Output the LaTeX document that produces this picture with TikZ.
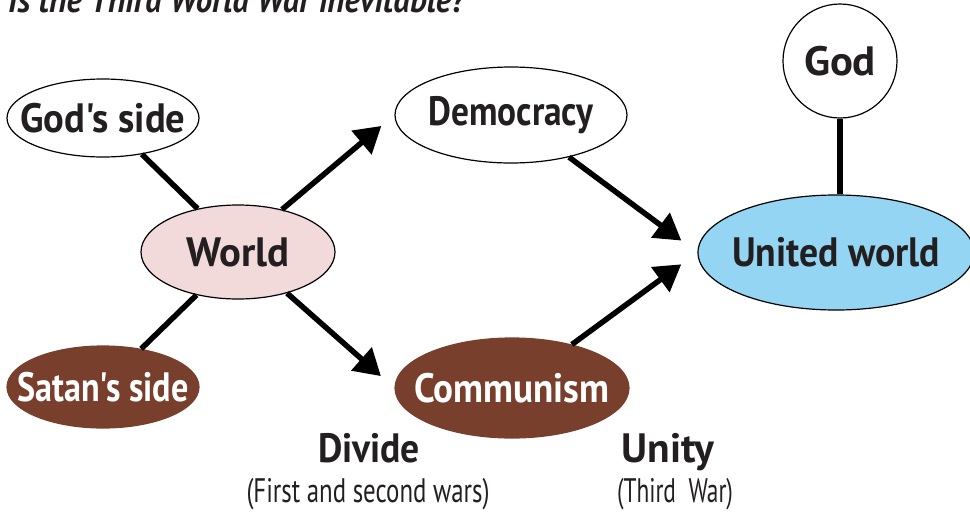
\documentclass[tikz,border=0pt]{standalone}
\usepackage{fontspec}
\usepackage{graphicx}
\setmainfont{PT Sans}[Ligatures=TeXOff]
\usetikzlibrary{shapes.geometric,arrows.meta}
\definecolor{ink}{RGB}{35,31,32}
\definecolor{pinkfill}{RGB}{242,218,219}
\definecolor{brownfill}{RGB}{120,63,44}
\definecolor{bluefill}{RGB}{147,213,243}
% text fitted to a given width, taking no width in its node
\newcommand\fitw[2]{\makebox[0pt]{\resizebox{#1}{\height}{#2}}}
\begin{document}
\begin{tikzpicture}[x=1pt,y=-1pt,
  el/.style={ellipse,draw=black,line width=1.2pt,inner sep=0pt,
    font=\bfseries\fontsize{41}{44}\selectfont,text=ink},
  conn/.style={line width=5.5pt,draw=black},
  arr/.style={conn,-{Triangle[length=26pt,width=30pt]}},
  lab/.style={anchor=base,inner sep=0pt,text=ink,font=\bfseries\fontsize{41}{44}\selectfont},
  sublab/.style={anchor=base,inner sep=0pt,text=ink,font=\fontsize{34}{36}\selectfont}]
\useasboundingbox (0,0) rectangle (970,517);
\node[anchor=base west,inner sep=0pt,text=ink,
  font=\bfseries\itshape\fontsize{36}{40}\selectfont] (title) at (8,12)
  {\resizebox{457pt}{\height}{Is the Third World War inevitable?}};
\node[el,minimum width=192pt,minimum height=78pt] (gs) at (103,118) {\fitw{165pt}{God's side}};
\node[el,fill=pinkfill,minimum width=194pt,minimum height=94pt] (world) at (238,252) {\fitw{103pt}{World}};
\node[el,fill=brownfill,draw=brownfill,text=white,minimum width=192pt,minimum height=82pt] (ss) at (103,387) {\fitw{171pt}{Satan's side}};
\node[el,minimum width=232pt,minimum height=96pt] (demo) at (511,115) {\fitw{165pt}{Democracy}};
\node[el,fill=brownfill,draw=brownfill,text=white,minimum width=234pt,minimum height=100pt] (comm) at (512,388) {\fitw{195pt}{Communism}};
\node[el,circle,minimum size=114pt] (god) at (840,61) {\fitw{72pt}{God}};
\node[el,fill=bluefill,minimum width=276pt,minimum height=115pt] (uw) at (836,252.5) {\fitw{208pt}{United world}};
\draw[conn] (gs.-43) -- (world.133);
\draw[conn] (ss.45) -- (world.226);
\draw[arr,shorten >=17pt] (world.44) -- (demo.west);
\draw[arr,shorten >=18pt] (world.-40) -- (comm.west);
\draw[arr,shorten >=20pt] (demo.-36) -- (uw.west);
\draw[arr,shorten >=20pt] (comm.36) -- (uw.west);
\draw[conn] (god.south) -- (god.south |- uw.north);
\node[lab] (divide) at (369,462) {\fitw{102pt}{Divide}};
\node[sublab] (divsub) at (368,502) {\fitw{243pt}{(First and second wars)}};
\node[lab] (unity) at (668,462) {\fitw{93pt}{Unity}};
\node[sublab] (unisub) at (675,502) {\fitw{116pt}{(Third\ \ War)}};
\end{tikzpicture}
\end{document}
